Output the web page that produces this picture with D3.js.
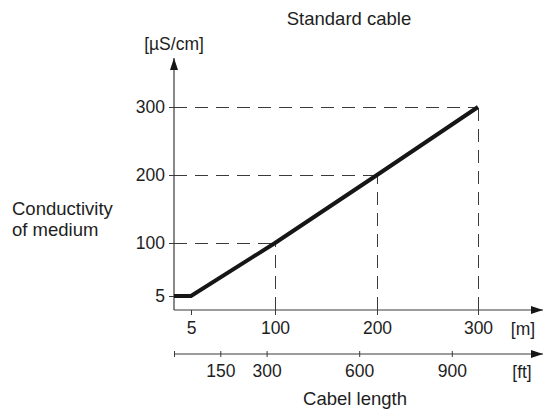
<!DOCTYPE html>
<html>
<head>
<meta charset="utf-8">
<script src="https://cdn.jsdelivr.net/npm/d3@7"></script>
<style>
  html, body { margin: 0; padding: 0; background: #fff; }
  svg { display: block; }
  text { font-family: "Liberation Sans", Arial, Helvetica, sans-serif; fill: #1e1e1e; }
</style>
</head>
<body>
<svg id="chart" width="544" height="414"></svg>
<script>
// ---- data ----
const lengthM   = [0, 5, 100, 200, 300];       // cable length [m]
const conduct   = [5, 5, 100, 200, 300];       // conductivity [µS/cm]
const refPoints = [100, 200, 300];             // dashed reference values
const mTicks    = [5, 100, 200, 300];
const ftTicks   = [0, 150, 300, 600, 900];
const ftLabels  = ["", "150", "300", "600", "900"];
const yTicks    = [5, 100, 200, 300];

const svg = d3.select("#chart");
const ink = "#161616";
const axisCol = "#3a3a3a";

// scales (schematic: the "5" positions are stretched as in the drawing)
const x = d3.scaleLinear().domain([0, 5, 100, 200, 300]).range([174, 191, 275, 377, 478]);
const y = d3.scaleLinear().domain([0, 5, 100, 200, 300]).range([310, 296, 243, 175, 107]);
const xft = d3.scaleLinear().domain([0, 900]).range([174, 451.8]);

const x0 = x(0), y0 = y(0), yFt = 354;
const xEnd = 543, yTop = 58;

// arrow marker
svg.append("defs").append("marker")
  .attr("id", "arr").attr("viewBox", "0 0 12 8")
  .attr("refX", 12).attr("refY", 4)
  .attr("markerWidth", 12).attr("markerHeight", 8)
  .attr("markerUnits", "userSpaceOnUse")
  .attr("orient", "auto")
  .append("path").attr("d", "M0,0 L12,4 L0,8 Z").attr("fill", ink);

// dashed reference lines
const ref = svg.append("g").attr("stroke", "#3a3a3a").attr("stroke-width", 1)
  .attr("stroke-dasharray", "13,8").attr("fill", "none")
  .attr("shape-rendering", "crispEdges");
refPoints.forEach(v => {
  ref.append("line").attr("x1", x0).attr("x2", x(v)).attr("y1", y(v) + 0.5).attr("y2", y(v) + 0.5);
  ref.append("line").attr("x1", x(v) + 0.5).attr("x2", x(v) + 0.5).attr("y1", y0).attr("y2", y(v));
});

// axes lines with arrows
svg.append("line").attr("x1", x0).attr("y1", y0).attr("x2", x0).attr("y2", yTop)
  .attr("stroke", axisCol).attr("stroke-width", 1.2).attr("marker-end", "url(#arr)");
svg.append("line").attr("x1", x0).attr("y1", y0).attr("x2", xEnd).attr("y2", y0)
  .attr("stroke", axisCol).attr("stroke-width", 1.2).attr("marker-end", "url(#arr)");
svg.append("line").attr("x1", x0).attr("y1", yFt).attr("x2", xEnd).attr("y2", yFt)
  .attr("stroke", axisCol).attr("stroke-width", 1.2).attr("marker-end", "url(#arr)");

const FF = "Liberation Sans, Arial, sans-serif";

// y axis ticks + labels
const gy = svg.append("g").attr("transform", `translate(${x0},0)`)
  .call(d3.axisLeft(y).tickValues(yTicks).tickSize(5).tickPadding(4).tickFormat(d3.format("d")));
gy.select(".domain").remove();
gy.selectAll(".tick line").attr("x1", 5).attr("x2", -5).attr("stroke", axisCol);
gy.selectAll(".tick text").attr("font-size", 17.5).attr("fill", "#1e1e1e").attr("font-family", FF);

// m axis ticks + labels
const gx = svg.append("g").attr("transform", `translate(0,${y0})`)
  .call(d3.axisBottom(x).tickValues(mTicks).tickSize(5).tickPadding(7).tickFormat(d3.format("d")));
gx.select(".domain").remove();
gx.selectAll(".tick line").attr("stroke", axisCol);
gx.selectAll(".tick text").attr("font-size", 17.5).attr("fill", "#1e1e1e").attr("font-family", FF);

// ft axis ticks + labels
const gf = svg.append("g").attr("transform", `translate(0,${yFt})`)
  .call(d3.axisBottom(xft).tickValues(ftTicks).tickSize(3).tickPadding(8)
    .tickFormat((d, i) => ftLabels[i]));
gf.select(".domain").remove();
gf.selectAll(".tick line").attr("y1", -3).attr("y2", 3).attr("stroke", axisCol);
gf.selectAll(".tick text").attr("font-size", 17.5).attr("fill", "#1e1e1e").attr("font-family", FF);

// data line
const line = d3.line().x((d, i) => x(lengthM[i])).y(d => y(d));
svg.append("path").datum(conduct).attr("d", line)
  .attr("fill", "none").attr("stroke", ink).attr("stroke-width", 4)
  .attr("stroke-linejoin", "miter");

// texts
const T = (txt, px, py, size, anchor) => svg.append("text").text(txt)
  .attr("x", px).attr("y", py).attr("font-size", size)
  .attr("text-anchor", anchor || "start").attr("dominant-baseline", "central");

T("Standard cable", 349, 18, 18.5, "middle");
T("[µS/cm]", 174, 44, 17.5, "middle");
T("Conductivity", 12, 208, 18.5);
T("of medium", 12, 229, 18.5);
T("[m]", 523, 329, 17.5, "middle");
T("[ft]", 522, 372, 17.5, "middle");
T("Cabel length", 355, 398, 18.5, "middle");
</script>
</body>
</html>
